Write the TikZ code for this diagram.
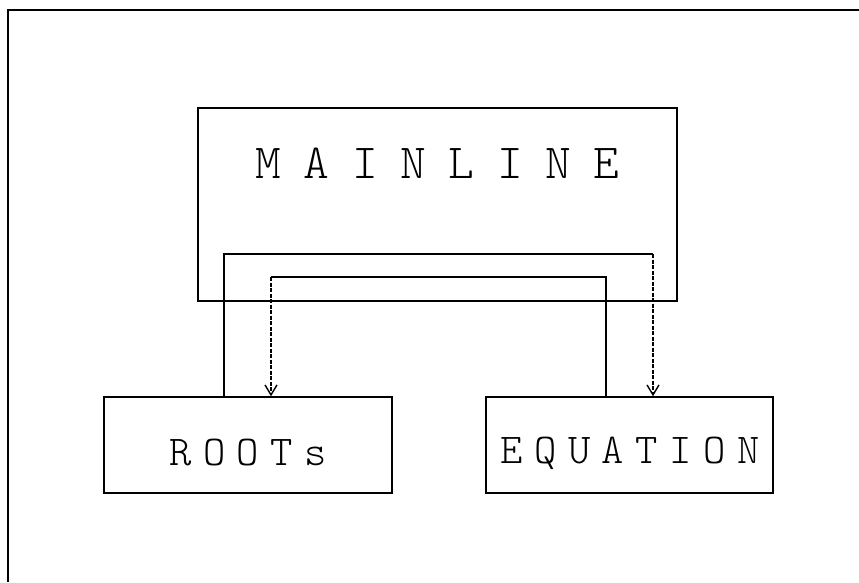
\documentclass[tikz,border=0pt]{standalone}
\usepackage{fontspec}
\newfontfamily\plotfont{lmmonolt10-regular.otf}
\usetikzlibrary{arrows.meta}

\begin{document}
\begin{tikzpicture}[x=1pt,y=-1pt,
  box/.style={draw, line width=1.5pt, inner sep=0pt},
  wire/.style={line width=1.5pt},
  flow/.style={line width=1.4pt, dash pattern=on 4pt off 1.5pt,
    -{Straight Barb[length=10pt,width=12pt]}},
  bigtext/.style={font=\plotfont\fontsize{49}{49}\selectfont\addfontfeatures{LetterSpace=46}},
  smalltext/.style={font=\plotfont\fontsize{42.5}{42.5}\selectfont\addfontfeatures{LetterSpace=27}}]
\useasboundingbox (0,0) rectangle (859,582);
% outer frame
\draw[wire] (859,10) -- (8,10) -- (8,582);
% routines
\node[box, minimum width=479pt, minimum height=193pt] (main) at (437.5,204.5) {};
\node[bigtext] (mainname) at (437.5,163) {MAINLINE};
\node[box, minimum width=288pt, minimum height=96pt] (roots) at (248,445) {};
\node[smalltext] (rootsname) at (248,453) {ROOTs};
\node[box, minimum width=287pt, minimum height=96pt] (equation) at (629.5,445) {};
\node[smalltext] (eqname) at (630,453) {EQUATION};
% calls
\coordinate (up1) at (224,254);
\coordinate (dn1) at (653,254);
\draw[wire] (roots.north -| up1) -- (up1) -- (dn1);
\draw[flow] (dn1) -- (dn1 |- equation.north);
\coordinate (up2) at (606,277);
\coordinate (dn2) at (271,277);
\draw[wire] (equation.north -| up2) -- (up2) -- (dn2);
\draw[flow] (dn2) -- (dn2 |- roots.north);
\end{tikzpicture}
\end{document}
